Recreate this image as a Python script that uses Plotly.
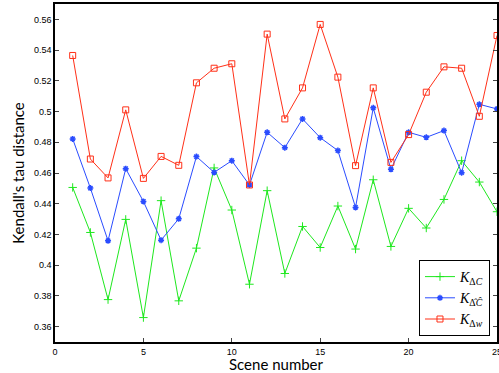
import plotly.graph_objects as go

scenes = list(range(1, 26))
k_dc = [0.4506, 0.4213, 0.3776, 0.4298, 0.3659, 0.4420, 0.3768, 0.4111, 0.4633, 0.4359,
        0.3876, 0.4485, 0.3946, 0.4252, 0.4115, 0.4385, 0.4105, 0.4556, 0.4122, 0.4370,
        0.4242, 0.4428, 0.4680, 0.4541, 0.4348]
k_dc_hat = [0.4822, 0.4502, 0.4159, 0.4628, 0.4415, 0.4163, 0.4302, 0.4707, 0.4604, 0.4680,
            0.4522, 0.4865, 0.4765, 0.4952, 0.4830, 0.4746, 0.4376, 0.5024, 0.4624, 0.4865,
            0.4832, 0.4876, 0.4602, 0.5047, 0.5017]
k_dw = [0.5365, 0.4691, 0.4568, 0.5011, 0.4565, 0.4708, 0.4650, 0.5187, 0.5282, 0.5311,
        0.4522, 0.5504, 0.4952, 0.5154, 0.5567, 0.5224, 0.4648, 0.5154, 0.4669, 0.4850,
        0.5126, 0.5291, 0.5282, 0.4969, 0.5495]

names = ["<i>K</i><sub>Δ<i>C</i></sub>",
         "<i>K</i><sub>Δ̂<i>Ĉ</i></sub>",
         "<i>K</i><sub>Δ<i>w</i></sub>"]
x_ticks = [0, 5, 10, 15, 20, 25]
y_ticks = [0.36, 0.38, 0.40, 0.42, 0.44, 0.46, 0.48, 0.50, 0.52, 0.54, 0.56]
y_tick_text = ["0.36", "0.38", "0.4", "0.42", "0.44", "0.46", "0.48", "0.5", "0.52", "0.54", "0.56"]

fig = go.Figure()
fig.add_trace(go.Scatter(x=scenes, y=k_dc, name=names[0], mode="lines+markers",
                         line=dict(color="#1ee81e", width=1),
                         marker=dict(symbol="cross-thin-open", size=6, line=dict(color="#1ee81e", width=1))))
fig.add_trace(go.Scatter(x=scenes, y=k_dc_hat, name=names[1], mode="lines+markers",
                         line=dict(color="#2a4cff", width=1),
                         marker=dict(symbol="asterisk-open", size=5, line=dict(color="#2a4cff", width=1.5))))
fig.add_trace(go.Scatter(x=scenes, y=k_dw, name=names[2], mode="lines+markers",
                         line=dict(color="#ff3018", width=1),
                         marker=dict(symbol="square-open", size=6, line=dict(color="#ff3018", width=1))))

fig.update_layout(
    width=499, height=373,
    margin=dict(l=55, r=2, t=4, b=31),
    paper_bgcolor="white", plot_bgcolor="white",
    font=dict(family="Liberation Sans, Arial", size=9, color="black"),
    legend=dict(x=0.8235, y=0.2426, xanchor="left", yanchor="top",
                bgcolor="white", bordercolor="black", borderwidth=1,
                font=dict(family="Liberation Serif, Times New Roman", size=14),
                itemwidth=30, tracegroupgap=2),
    xaxis=dict(range=[0, 25], tickvals=x_ticks, ticks="inside", ticklen=4, tickwidth=1,
               showline=True, linecolor="black", linewidth=1.5, mirror=True,
               showgrid=False, zeroline=False, automargin=False, ticklabeloverflow="allow",
               title=dict(text="Scene number", font=dict(family="Lato, DejaVu Sans", size=15), standoff=0)),
    yaxis=dict(range=[0.35, 0.57], tickvals=y_ticks, ticktext=y_tick_text, ticks="inside", ticklen=4, tickwidth=1,
               showline=True, linecolor="black", linewidth=1.5, mirror="ticks",
               showgrid=False, zeroline=False, automargin=False,
               title=dict(text="Kendall's tau distance", font=dict(family="Lato, DejaVu Sans", size=15), standoff=6)),
)

fig.write_html("out.html", config={"displayModeBar": False},
               post_script="document.body.style.margin='0';document.body.style.overflow='hidden';")
